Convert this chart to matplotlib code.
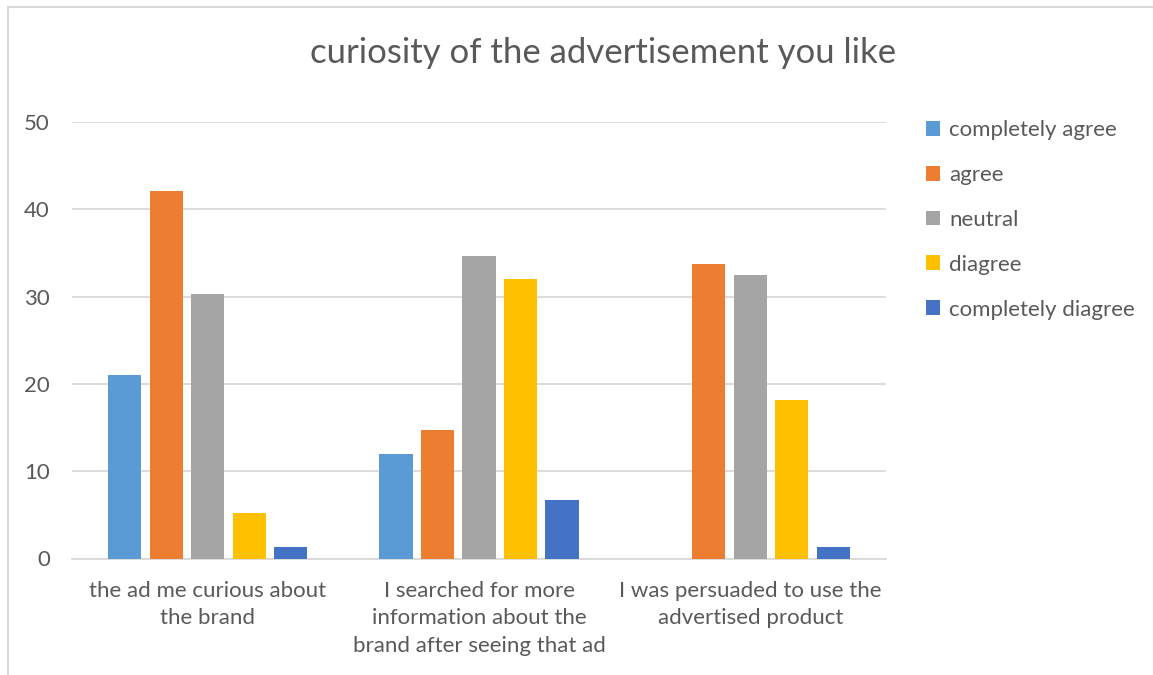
import numpy as np
import matplotlib.pyplot as plt
from matplotlib.lines import Line2D

categories = ["the ad me curious about\nthe brand",
              "I searched for more\ninformation about the\nbrand after seeing that ad",
              "I was persuaded to use the\nadvertised product"]
series = ["completely agree", "agree", "neutral", "diagree", "completely diagree"]
colors = ["#5B9BD5", "#ED7D31", "#A5A5A5", "#FFC000", "#4472C4"]

completely_agree = [21.05, 12.0, 0.0]
agree = [42.1, 14.7, 33.75]
neutral = [30.3, 34.7, 32.45]
diagree = [5.26, 32.0, 18.15]
completely_diagree = [1.3, 6.7, 1.3]
values = [completely_agree, agree, neutral, diagree, completely_diagree]

plt.rcParams['font.family'] = ['Lato', 'DejaVu Sans']
txt = "#595959"
grid = "#D9D9D9"

fig = plt.figure(figsize=(11.53, 6.75), dpi=100)
ax = fig.add_axes([72/1153, 1 - 558.5/675, (886 - 72)/1153, (558.5 - 122)/675])

x = np.arange(len(categories))
step = 0.153
width = 0.122
for j, (name, vals) in enumerate(zip(series, values)):
    ax.bar(x + (j - 2) * step, vals, width, color=colors[j], label=name, zorder=3)

ax.set_xlim(-0.5, 2.5)
ax.set_ylim(0, 50)
ax.set_yticks(range(0, 51, 10))
ax.yaxis.grid(True, color=grid, linewidth=1.3, zorder=0)
ax.set_xticks(x)
ax.set_xticklabels(categories, fontsize=16, color=txt, linespacing=1.48)
ax.tick_params(axis='both', length=0, labelsize=16, labelcolor=txt)
ax.tick_params(axis='x', pad=16)
ax.tick_params(axis='y', pad=16)
for s in ['top', 'right', 'left']:
    ax.spines[s].set_visible(False)
ax.spines['bottom'].set_color(grid)
ax.spines['bottom'].set_linewidth(1.3)

fig.text(603/1153, 1 - 53/675, "curiosity of the advertisement you like",
         ha='center', va='center', fontsize=25, color=txt)

leg = fig.legend(loc='upper left', bbox_to_anchor=(906/1153, 1 - 100/675),
                 frameon=False, fontsize=16, labelcolor=txt,
                 handlelength=0.65, handleheight=0.65, handletextpad=0.4,
                 labelspacing=1.12)

# outer chart border (left and top edges)
fig.add_artist(Line2D([8/1153, 8/1153], [0, 1 - 7/675], transform=fig.transFigure,
                      color=grid, linewidth=1.5))
fig.add_artist(Line2D([8/1153, 1], [1 - 7/675, 1 - 7/675], transform=fig.transFigure,
                      color=grid, linewidth=1.5))

fig.savefig("out.png", dpi=100, facecolor="white")
